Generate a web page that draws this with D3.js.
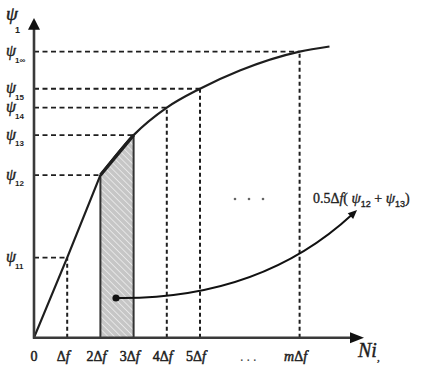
<!DOCTYPE html>
<html>
<head>
<meta charset="utf-8">
<script src="https://cdn.jsdelivr.net/npm/d3@7"></script>
<style>
  html, body { margin: 0; padding: 0; background: #fff; }
  svg { display: block; }
  .serif { font-family: "Liberation Serif", "DejaVu Serif", serif; }
  .sans { font-family: "Liberation Sans", Arial, sans-serif; }
</style>
</head>
<body>
<svg id="chart" width="427" height="366"></svg>
<script>
// Cumulative response curve psi_1 against Ni_t, in steps of Δf
const stepX   = [0, 1, 2, 3, 4, 5, 6.2, 8, 8.9];            // position in units of Δf
const psiY    = [0, 2.5, 5.08, 6.33, 7.19, 7.78, 8.35, 8.94, 9.1];

const levelNames = ["11", "12", "13", "14", "15", "1∞"];
const levelValues = [2.5, 5.08, 6.33, 7.19, 7.78, 8.94];
const levelSteps  = [1, 2, 3, 4, 5, 8];

// x-axis tick labels
const tickSteps  = [0, 1, 2, 3, 4, 5, 8];
const tickLabels = ["0", "Δf", "2Δf", "3Δf", "4Δf", "5Δf", "mΔf"];
const ellipsisStep = 6.5;

// Trapezoid between 2Δf and 3Δf
const stripFrom = 2, stripTo = 3;

// Annotation: dot in the strip, arrow to the formula
const noteDot = [2.47, 1.24], noteCtrl = [6.8, 1.18], noteTip = [9.73, 3.99];
const noteText = [8.4, 4.2];

const svg = d3.select("#chart");
const ink = "#1e1e1e";

const x = d3.scaleLinear().domain([0, 10]).range([34, 366]);
const y = d3.scaleLinear().domain([0, 10]).range([337.7, 17.7]);

// hatch pattern for the strip
const defs = svg.append("defs");
const pat = defs.append("pattern").attr("id", "hatch")
  .attr("patternUnits", "userSpaceOnUse").attr("width", 4.5).attr("height", 4.5)
  .attr("patternTransform", "rotate(-45)");
pat.append("rect").attr("width", 4.5).attr("height", 4.5).attr("fill", "#c6c6c6");
pat.append("line").attr("x1", 0).attr("y1", 0).attr("x2", 0).attr("y2", 4.5)
  .attr("stroke", "#efefef").attr("stroke-width", 1.5);

const at = v => stepX.indexOf(v);
const strip = [[stripFrom, 0], [stripFrom, psiY[at(stripFrom)]], [stripTo, psiY[at(stripTo)]], [stripTo, 0]];
svg.append("path")
  .attr("d", d3.line().x(d => x(d[0])).y(d => y(d[1]))(strip) + "Z")
  .attr("fill", "url(#hatch)").attr("stroke", "none");
// strip edges
svg.append("line").attr("x1", x(stripFrom)).attr("x2", x(stripFrom))
  .attr("y1", y(0)).attr("y2", y(psiY[at(stripFrom)]))
  .attr("stroke", "#333").attr("stroke-width", 2);
svg.append("line").attr("x1", x(stripTo)).attr("x2", x(stripTo))
  .attr("y1", y(0)).attr("y2", y(psiY[at(stripTo)]))
  .attr("stroke", "#333").attr("stroke-width", 2);
svg.append("line").attr("x1", x(stripFrom)).attr("x2", x(stripTo))
  .attr("y1", y(psiY[at(stripFrom)])).attr("y2", y(psiY[at(stripTo)]))
  .attr("stroke", ink).attr("stroke-width", 3.2);

// dashed guide lines
levelValues.forEach((v, i) => {
  const s = levelSteps[i];
  svg.append("line").attr("x1", x(0)).attr("x2", x(s))
    .attr("y1", y(v)).attr("y2", y(v))
    .attr("stroke", ink).attr("stroke-width", 1.8).attr("stroke-dasharray", "5,3.5");
  if (s !== stripFrom && s !== stripTo) {
    svg.append("line").attr("x1", x(s)).attr("x2", x(s))
      .attr("y1", y(0)).attr("y2", y(v))
      .attr("stroke", ink).attr("stroke-width", 2).attr("stroke-dasharray", "4,3");
  }
});

// the curve: straight rise to 2Δf, then a smooth saturating arc
const pts = stepX.map((s, i) => [s, psiY[i]]);
svg.append("path")
  .attr("d", d3.line().x(d => x(d[0])).y(d => y(d[1]))(pts.slice(0, 3)))
  .attr("fill", "none").attr("stroke", ink).attr("stroke-width", 2.2);
svg.append("path")
  .attr("d", d3.line().curve(d3.curveMonotoneX).x(d => x(d[0])).y(d => y(d[1]))(pts.slice(2)))
  .attr("fill", "none").attr("stroke", ink).attr("stroke-width", 2.2);

// axes with arrowheads
const axisCol = "#3a3a3a";
svg.append("line").attr("x1", x(0)).attr("x2", x(0)).attr("y1", y(0) + 1).attr("y2", 28)
  .attr("stroke", axisCol).attr("stroke-width", 2.6);
svg.append("path").attr("d", `M${x(0)},${y(10) + 0.3} L${x(0) - 6},${y(10) + 12} L${x(0) + 6},${y(10) + 12} Z`)
  .attr("fill", "#111");
svg.append("line").attr("x1", x(0) - 1).attr("x2", 352).attr("y1", y(0)).attr("y2", y(0))
  .attr("stroke", axisCol).attr("stroke-width", 2.4);
svg.append("path").attr("d", `M364,${y(0)} L350,${y(0) - 5.5} L350,${y(0) + 5.5} Z`)
  .attr("fill", "#111");

// x tick labels
tickSteps.forEach((s, i) => {
  const lab = tickLabels[i];
  const t = svg.append("text").attr("class", "serif")
    .attr("x", x(s) + (s === 0 ? 0 : -4)).attr("y", 361)
    .attr("text-anchor", "middle").attr("font-size", 14).attr("fill", ink)
    .attr("stroke", ink).attr("stroke-width", 0.5);
  if (lab === "0") { t.text(lab); return; }
  const k = lab.indexOf("Δ");
  const pre = lab.slice(0, k);
  if (pre) t.append("tspan").attr("font-style", pre === "m" ? "italic" : "normal").text(pre);
  t.append("tspan").text("Δ");
  t.append("tspan").attr("font-style", "italic").text("f");
});
svg.append("text").attr("class", "serif").attr("x", x(ellipsisStep)).attr("y", 361)
  .attr("text-anchor", "middle").attr("font-size", 14).attr("fill", "#444")
  .attr("letter-spacing", 3).text("...");

// axis titles
const ttl = svg.append("text").attr("class", "serif").attr("x", 358).attr("y", 357)
  .attr("font-size", 20).attr("font-style", "italic").attr("fill", ink)
  .attr("stroke", ink).attr("stroke-width", 0.4);
ttl.append("tspan").text("Ni");
ttl.append("tspan").attr("font-size", 11).attr("dy", 4).text(",");

svg.append("text").attr("class", "serif").attr("x", 6).attr("y", 20)
  .attr("font-size", 19).attr("font-style", "italic").attr("fill", ink)
  .attr("stroke", ink).attr("stroke-width", 0.5).text("ψ");
svg.append("text").attr("class", "sans").attr("x", 15).attr("y", 33)
  .attr("font-size", 9).attr("font-weight", "bold").attr("fill", ink).text("1");

// level labels on the y side
levelValues.forEach((v, i) => {
  svg.append("text").attr("class", "serif").attr("x", 6).attr("y", y(v) + 4.5)
    .attr("font-size", 16).attr("font-style", "italic").attr("fill", ink)
    .attr("stroke", ink).attr("stroke-width", 0.4).text("ψ");
  svg.append("text").attr("class", "sans").attr("x", 15).attr("y", y(v) + 11)
    .attr("font-size", 8).attr("font-weight", "bold").attr("fill", ink).text(levelNames[i]);
});

// dots between 5Δf and mΔf
[0, 1, 2].forEach(j => {
  svg.append("circle").attr("cx", 235 + j * 14).attr("cy", 199).attr("r", 1.3).attr("fill", "#666");
});

// annotation arrow
const p0 = [x(noteDot[0]), y(noteDot[1])], pc = [x(noteCtrl[0]), y(noteCtrl[1])], p1 = [x(noteTip[0]), y(noteTip[1])];
const ang = Math.atan2(p1[1] - pc[1], p1[0] - pc[0]);
const back = 9;
const pe = [p1[0] - back * 0.7 * Math.cos(ang), p1[1] - back * 0.7 * Math.sin(ang)];
const ap = d3.path();
ap.moveTo(p0[0], p0[1]);
ap.quadraticCurveTo(pc[0], pc[1], pe[0], pe[1]);
svg.append("path").attr("d", ap.toString()).attr("fill", "none").attr("stroke", "#111").attr("stroke-width", 2);
const w = 4;
const bx = p1[0] - back * Math.cos(ang), by = p1[1] - back * Math.sin(ang);
svg.append("path")
  .attr("d", `M${p1[0]},${p1[1]} L${bx + w * Math.sin(ang)},${by - w * Math.cos(ang)} L${bx - w * Math.sin(ang)},${by + w * Math.cos(ang)} Z`)
  .attr("fill", "#111");
svg.append("circle").attr("cx", p0[0]).attr("cy", p0[1]).attr("r", 3.6).attr("fill", "#111");

// formula for the strip area
const nt = svg.append("text").attr("class", "serif").attr("x", x(noteText[0])).attr("y", y(noteText[1]))
  .attr("font-size", 14).attr("fill", ink).attr("stroke", ink).attr("stroke-width", 0.35);
nt.append("tspan").text("0.5Δ");
nt.append("tspan").attr("font-style", "italic").text("f");
nt.append("tspan").text("( ");
nt.append("tspan").attr("font-style", "italic").attr("font-size", 15).text("ψ");
nt.append("tspan").attr("font-size", 9).attr("dy", 4).attr("class", "sans").text("12");
nt.append("tspan").attr("dy", -4).text(" + ");
nt.append("tspan").attr("font-style", "italic").attr("font-size", 15).text("ψ");
nt.append("tspan").attr("font-size", 9).attr("dy", 4).attr("class", "sans").text("13");
nt.append("tspan").attr("dy", -4).text(")");
</script>
</body>
</html>
